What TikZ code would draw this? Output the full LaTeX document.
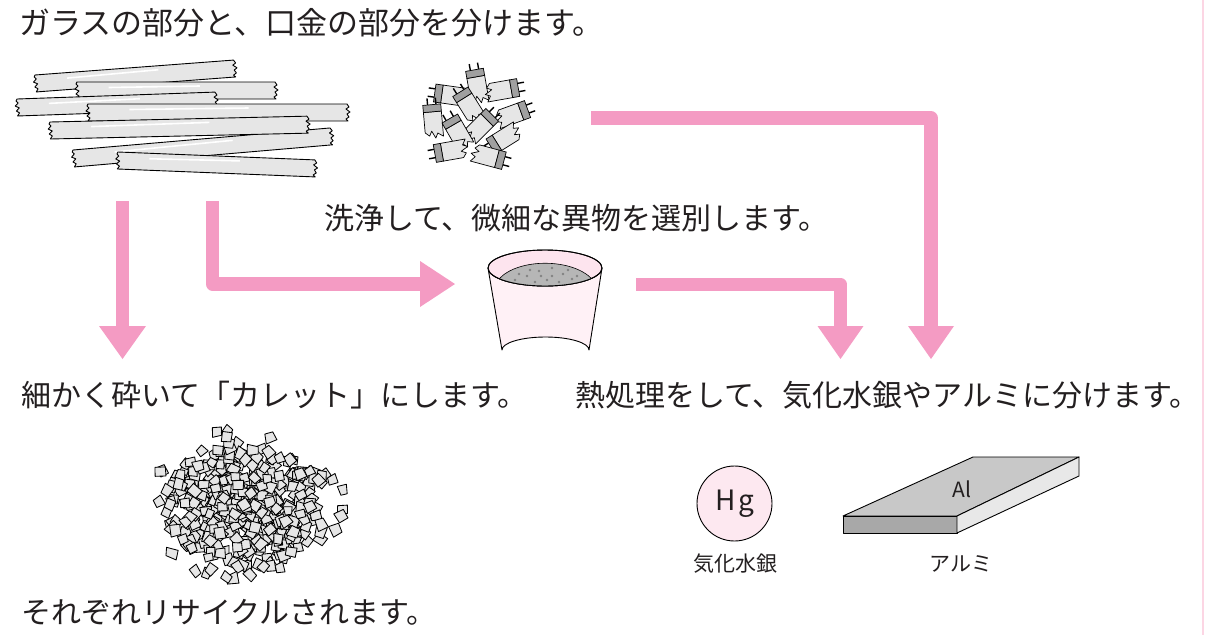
\documentclass[tikz,border=0pt]{standalone}
\usepackage{fontspec}
\newfontfamily\jp{Noto Sans CJK JP}
\usetikzlibrary{calc}

\definecolor{arrowpink}{RGB}{244,155,195}
\definecolor{edgepink}{RGB}{252,214,228}
\definecolor{inkgray}{RGB}{35,31,32}
\definecolor{glassgray}{RGB}{230,230,230}
\definecolor{capgray}{RGB}{160,160,160}
\definecolor{cuppink}{RGB}{255,241,246}
\definecolor{rimpink}{RGB}{253,228,238}
\definecolor{dustgray}{RGB}{182,182,182}
\definecolor{speckgray}{RGB}{130,130,130}
\definecolor{hgpink}{RGB}{253,232,240}
\definecolor{altop}{RGB}{200,200,200}
\definecolor{alfront}{RGB}{168,168,168}
\definecolor{alside}{RGB}{232,232,232}

\tikzset{
  caption/.style={font=\jp\fontsize{30}{30}\selectfont, text=inkgray, inner sep=0pt, anchor=base west},
  smallcap/.style={font=\jp\fontsize{21}{21}\selectfont, text=inkgray, inner sep=0pt, anchor=base},
  flow/.style={draw=arrowpink, line width=13.5pt, line join=round},
  flowhead/.style={fill=arrowpink},
  tubebody/.style={fill=glassgray, draw=black, line width=0.9pt, line join=round},
  stub/.style={fill=glassgray, draw=black, line width=0.7pt, line join=round},
  capband/.style={fill=capgray, draw=black, line width=0.7pt},
  pin/.style={draw=black, line width=1.4pt},
  frag/.style={fill=glassgray, draw=black, line width=0.85pt, line join=round},
  outline/.style={draw=black, line width=0.9pt, line join=round},
}

% a glass tube with broken ends; #1,#2 top-left corner, #3 tilt, #4 length
\newcommand{\glasstube}[4]{%
  \begin{scope}[shift={(#1,#2)}, rotate=#3]
    \filldraw[tubebody] (0,0) -- (#4,0) -- (#4+2,3) -- (#4-1,5) -- (#4+3,8)
      -- (#4,10) -- (#4+2,13) -- (#4-1,15) -- (#4+1,17) -- (0,17)
      -- (2,14) -- (-1,12) -- (2,9) -- (-2,7) -- (1,4) -- (-1,2) -- cycle;
    \draw[white, line width=1.6pt] (0.16*#4,5.5) -- (0.62*#4,4);
  \end{scope}}

% a broken tube end with its metal cap; #1,#2 centre, #3 direction of the cap
\newcommand{\capend}[3]{%
  \begin{scope}[shift={(#1,#2)}, rotate=#3, scale=1.2]
    \draw[pin] (12,-3.5) -- (17.5,-3.5) (12,3.5) -- (17.5,3.5);
    \filldraw[stub] (6,-7.5) -- (-11,-7.5) -- (-14,-4) -- (-10,-2) -- (-16,1)
      -- (-12,3) -- (-15,7.5) -- (6,7.5) -- cycle;
    \filldraw[capband] (6,-7.5) rectangle (12,7.5);
  \end{scope}}

\begin{document}
\begin{tikzpicture}[x=1pt, y=-1pt]
\useasboundingbox (0,0) rectangle (1205,635);

% page edge rule
\draw[edgepink, line width=2pt] (1203,0) -- (1203,635);

% ---------- captions ----------
\node[caption, font=\jp\fontsize{31}{31}\selectfont] (sep) at (19,34) {ガラスの部分と、口金の部分を分けます。};
\node[caption] (wash)  at (324,229) {洗浄して、微細な異物を選別します。};
\node[caption] (crush) at (21,406)  {細かく砕いて「カレット」にします。};
\node[caption] (heat)  at (575,406) {熱処理をして、気化水銀やアルミに分けます。};
\node[caption] (recy)  at (21,623)  {それぞれリサイクルされます。};

% ---------- glass tubes ----------
\glasstube{35}{75}{4.3}{199}
\glasstube{77}{82}{0}{198}
\glasstube{17}{99}{2}{198}
\glasstube{88}{104}{0}{259}
\glasstube{73}{150}{4.9}{258}
\glasstube{50}{122}{1.3}{257}
\glasstube{118}{152}{-2.3}{197}

% ---------- cap ends ----------
\capend{477}{84}{100}
\capend{504}{90}{10}
\capend{449}{95}{172}
\capend{468}{104}{122}
\capend{514}{114}{20}
\capend{433}{119}{95}
\capend{482}{125}{45}
\capend{457}{131}{120}
\capend{503}{139}{212}
\capend{449}{151}{190}
\capend{490}{157}{-15}

% ---------- arrows ----------
\coordinate (a1s) at (122.5,201);
\coordinate (a1b) at (122.5,326);
\coordinate (a1e) at (122.5,359);
\draw[flow] (a1s) -- (a1b);
\fill[flowhead] (99,326) -- (a1e) -- (146,326) -- cycle;

\coordinate (a2s) at (212.5,201);
\coordinate (a2b) at (420,284);
\coordinate (a2e) at (455,284);
\draw[flow] (a2s) |- (a2b);
\fill[flowhead] (420,261) -- (a2e) -- (420,307) -- cycle;

\coordinate (a3s) at (591,118);
\coordinate (a3b) at (931,326);
\coordinate (a3e) at (931,359);
\draw[flow] (a3s) -| (a3b);
\fill[flowhead] (908,326) -- (a3e) -- (954,326) -- cycle;

\coordinate (a4s) at (636,284.5);
\coordinate (a4b) at (840.5,326);
\coordinate (a4e) at (840.5,359);
\draw[flow] (a4s) -| (a4b);
\fill[flowhead] (817.5,326) -- (a4e) -- (863.5,326) -- cycle;

% ---------- cup with washed glass ----------
\filldraw[fill=cuppink, outline] (488,268) -- (502,350)
  arc[start angle=180, end angle=360, x radius=43.5, y radius=13] -- (602,268)
  arc[start angle=0, end angle=180, x radius=57, y radius=18] -- cycle;
\filldraw[fill=rimpink, outline] (545,268) ellipse[x radius=57, y radius=18];
\begin{scope}
  \clip (545,268) ellipse[x radius=57, y radius=18];
  \fill[dustgray] (499,279) .. controls (518,258) and (572,258) .. (592,279)
    -- (610,300) -- (480,300) -- cycle;
  \draw[black, line width=0.6pt] (499,279) .. controls (518,258) and (572,258) .. (592,279);
\end{scope}
\draw[outline] (545,268) ellipse[x radius=57, y radius=18];
\foreach \p in {(519,274),(527,276),(539,271),(552,268),(541,276),(552,276),
  (563,274),(577,276),(515,280),(535,282),(547,280),(559,282),(572,279),(530,270),(568,270)}
  \fill[speckgray] \p circle[radius=1.3];

% ---------- cullet pile ----------
\pgfmathsetseed{314}
\foreach \i in {1,...,560}{
  \pgfmathsetmacro\ang{360*rnd}
  \pgfmathsetmacro\ua{rnd}
  \pgfmathsetmacro\rr{(\i<525) ? pow(\ua,0.95) : (0.95+0.3*\ua)}
  \pgfmathsetmacro\cx{246+80*\rr*cos(\ang)}
  \pgfmathsetmacro\cy{505+62*\rr*sin(\ang)}
  \pgfmathsetmacro\rot{360*rnd}
  \pgfmathsetmacro\s{5.8+1.6*rnd}
  \pgfmathsetmacro\ra{\s*(0.88+0.24*rnd)}
  \pgfmathsetmacro\rb{\s*(0.88+0.24*rnd)}
  \pgfmathsetmacro\rc{\s*(0.88+0.24*rnd)}
  \pgfmathsetmacro\rd{\s*(0.88+0.24*rnd)}
  \pgfmathsetmacro\ja{\rot+90+15*rand}
  \pgfmathsetmacro\jb{\rot+180+15*rand}
  \pgfmathsetmacro\jc{\rot+270+15*rand}
  \begin{scope}[shift={(\cx,\cy)}]
    \filldraw[frag] (\rot:\ra) -- (\ja:\rb) -- (\jb:\rc) -- (\jc:\rd) -- cycle;
  \end{scope}
}

% ---------- mercury vapour ----------
\node[circle, minimum size=75pt, inner sep=0pt, fill=hgpink, outline,
  font=\jp\fontsize{28}{28}\selectfont, text=inkgray] (hg) at (734.5,503.5) {H\kern2.5pt g};
\node[smallcap] (hgl) at (735,571) {気化水銀};

% ---------- aluminium plate ----------
\coordinate (pfl) at (843,516);
\coordinate (pbl) at (973,457);
\coordinate (pbr) at (1079,457);
\coordinate (pfr) at (957,516);
\coordinate (pfrb) at (957,533);
\coordinate (pflb) at (843,533);
\coordinate (pbrb) at (1079,476);
\filldraw[fill=altop, outline] (pfl) -- (pbl) -- (pbr) -- (pfr) -- cycle;
\filldraw[fill=alfront, outline] (pfl) -- (pfr) -- (pfrb) -- (pflb) -- cycle;
\filldraw[fill=alside, outline] (pfr) -- (pbr) -- (pbrb) -- (pfrb) -- cycle;
\node[font=\jp\fontsize{21}{21}\selectfont, text=inkgray, inner sep=0pt] (al) at (962,489) {Al};
\node[smallcap] (all) at (961,571) {アルミ};

\end{tikzpicture}
\end{document}
